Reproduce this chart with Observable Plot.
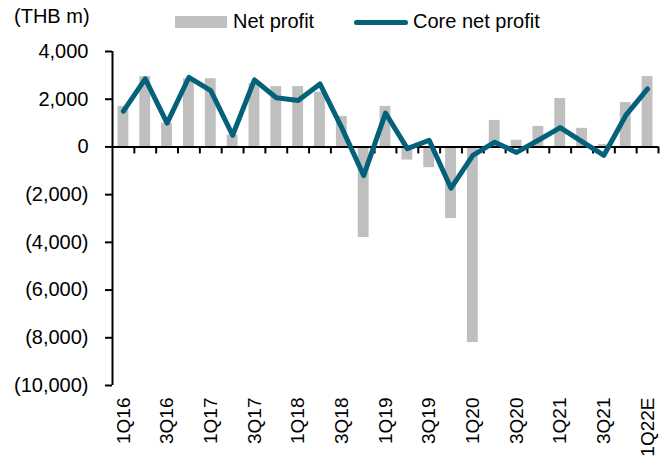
<!DOCTYPE html>
<html>
<head>
<meta charset="utf-8">
<script src="https://cdn.jsdelivr.net/npm/d3@7"></script>
<script src="https://cdn.jsdelivr.net/npm/@observablehq/plot@0.6"></script>
<style>
  html, body { margin: 0; padding: 0; background: #fff; }
  #wrap { position: relative; width: 670px; height: 466px; font-family: "Liberation Sans", Arial, sans-serif; color: #000; }
  #title { position: absolute; left: 14px; top: 5px; font-size: 20px; }
  .leg { position: absolute; font-size: 20px; top: 10px; }
  #sw1 { position: absolute; left: 175px; top: 16px; width: 52px; height: 12px; background: #bfbfbf; }
  #sw2 { position: absolute; left: 354px; top: 20px; width: 54px; height: 5px; border-radius: 3px; background: #04617a; }
  #chart { position: absolute; left: 0; top: 0; }
</style>
</head>
<body>
<div id="wrap">
  <div id="chart"></div>
  <div id="title">(THB m)</div>
  <div id="sw1"></div>
  <div class="leg" style="left:233px">Net profit</div>
  <div id="sw2"></div>
  <div class="leg" style="left:413px">Core net profit</div>
</div>
<script>
const quarters = ["1Q16","2Q16","3Q16","4Q16","1Q17","2Q17","3Q17","4Q17","1Q18","2Q18","3Q18","4Q18",
  "1Q19","2Q19","3Q19","4Q19","1Q20","2Q20","3Q20","4Q20","1Q21","2Q21","3Q21","4Q21","1Q22E"];
const netProfit = [1700, 2950, 1000, 2850, 2860, 500, 2650, 2530, 2530, 2290, 1280, -3800,
  1700, -550, -870, -3000, -8200, 1110, 280, 860, 2030, 780, 100, 1860, 2950];
const coreNetProfit = [1500, 2850, 1000, 2920, 2360, 490, 2810, 2060, 1950, 2640, 800, -1200,
  1420, -70, 280, -1730, -350, 200, -230, 280, 810, 220, -350, 1320, 2430];
const yTicks = [4000, 2000, 0, -2000, -4000, -6000, -8000, -10000];

const data = quarters.map((q, i) => ({q, i, net: netProfit[i], core: coreNetProfit[i]}));
const labelIdx = quarters.map((q, i) => i).filter(i => i % 2 === 0);
const boundaries = d3.range(1, quarters.length + 1);
const fmt = d3.format(",");
const yFmt = d => d < 0 ? "(" + fmt(-d) + ")" : fmt(d);

const chart = Plot.plot({
  width: 670,
  height: 466,
  marginLeft: 112,
  marginRight: 12,
  marginTop: 51,
  marginBottom: 81,
  style: {fontFamily: "'Liberation Sans', Arial, sans-serif", background: "transparent"},
  x: {type: "linear", domain: [0, quarters.length]},
  y: {domain: [-10000, 4000]},
  marks: [
    Plot.rectY(data, {x1: d => d.i, x2: d => d.i + 1, y: "net", insetLeft: 5.5, insetRight: 5.5, fill: "#bfbfbf"}),
    Plot.ruleY([0], {stroke: "#000", strokeWidth: 2}),
    Plot.ruleX(boundaries, {x: d => d, y1: 0, y2: 0, insetBottom: -7, stroke: "#000", strokeWidth: 2}),
    Plot.ruleX([0], {stroke: "#000", strokeWidth: 2}),
    Plot.axisY({ticks: yTicks, tickFormat: yFmt, tickSize: 7, tickPadding: 17, fontSize: 20, strokeWidth: 2, label: null}),
    Plot.axisX({ticks: labelIdx.map(i => i + 0.5), tickFormat: d => quarters[Math.round(d - 0.5)], tickSize: 0, tickPadding: 12, tickRotate: -90, fontSize: 19, label: null}),
    Plot.line(data, {x: d => d.i + 0.5, y: "core", stroke: "#04617a", strokeWidth: 5, strokeLinejoin: "round", strokeLinecap: "round"})
  ]
});
document.getElementById("chart").appendChild(chart);
</script>
</body>
</html>
